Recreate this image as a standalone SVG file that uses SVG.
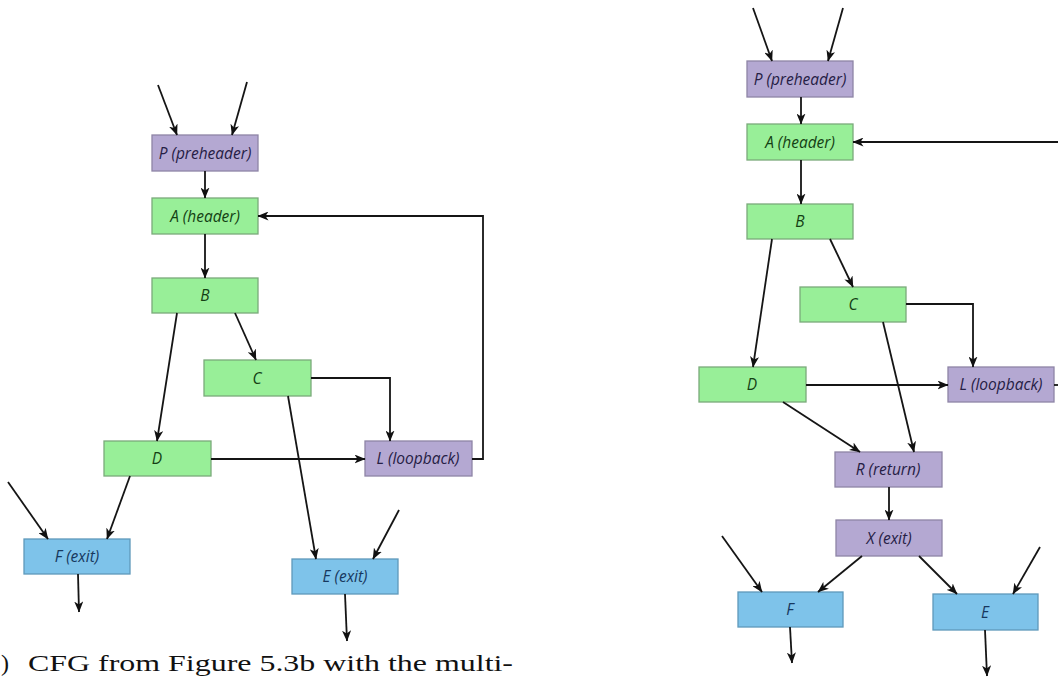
<svg xmlns="http://www.w3.org/2000/svg" width="1058" height="677" viewBox="0 0 1058 677">
<defs>
<marker id="ah" markerUnits="userSpaceOnUse" markerWidth="11" markerHeight="9" refX="10.5" refY="4.5" orient="auto">
<path d="M0,0 L11,4.5 L0,9 L3,4.5 z" fill="#111"/>
</marker>
<style>
.e{fill:none;stroke:#151515;stroke-width:1.8;marker-end:url(#ah)}
.p{fill:none;stroke:#151515;stroke-width:1.8}
.g rect{fill:#98ef98;stroke:#7aaa7a;stroke-width:1.3}
.v rect{fill:#b4a8d2;stroke:#8e84a6;stroke-width:1.3}
.b rect{fill:#7ec3ea;stroke:#5f99bb;stroke-width:1.3}
text.n{font-family:"Open Sans","DejaVu Sans",sans-serif;font-style:italic;font-size:15.5px;text-anchor:middle}
.g text{fill:#143f14}
.v text{fill:#262045}
.b text{fill:#17385e}
.cap{font-family:"Liberation Serif","DejaVu Serif",serif;font-size:24px;fill:#111}
</style>
</defs>
<rect width="1058" height="677" fill="#fff"/>

<!-- Left diagram -->
<g id="L_P" class="v"><rect x="152" y="135" width="106" height="36"/><text class="n" x="205" y="158.5">P (preheader)</text></g>
<g id="L_A" class="g"><rect x="152" y="198" width="106" height="36"/><text class="n" x="205" y="221.5">A (header)</text></g>
<g id="L_B" class="g"><rect x="152" y="278" width="106" height="35"/><text class="n" x="205" y="301">B</text></g>
<g id="L_C" class="g"><rect x="204" y="360" width="107" height="36"/><text class="n" x="257" y="383.5">C</text></g>
<g id="L_D" class="g"><rect x="104" y="441" width="107" height="35"/><text class="n" x="157" y="464">D</text></g>
<g id="L_L" class="v"><rect x="365" y="441" width="107" height="35"/><text class="n" x="418" y="464">L (loopback)</text></g>
<g id="L_F" class="b"><rect x="24" y="539" width="106" height="35"/><text class="n" x="77" y="562">F (exit)</text></g>
<g id="L_E" class="b"><rect x="292" y="559" width="106" height="35"/><text class="n" x="345" y="582">E (exit)</text></g>

<!-- Right diagram -->
<g id="R_P" class="v"><rect x="747" y="61" width="106" height="36"/><text class="n" x="800" y="84.5">P (preheader)</text></g>
<g id="R_A" class="g"><rect x="747" y="124" width="106" height="36"/><text class="n" x="800" y="147.5">A (header)</text></g>
<g id="R_B" class="g"><rect x="747" y="204" width="106" height="35"/><text class="n" x="800" y="227">B</text></g>
<g id="R_C" class="g"><rect x="800" y="287" width="106" height="35"/><text class="n" x="853" y="310">C</text></g>
<g id="R_D" class="g"><rect x="699" y="367" width="107" height="35"/><text class="n" x="752" y="390">D</text></g>
<g id="R_L" class="v"><rect x="948" y="367" width="106" height="35"/><text class="n" x="1001" y="390">L (loopback)</text></g>
<g id="R_R" class="v"><rect x="835" y="452" width="107" height="35"/><text class="n" x="888" y="475">R (return)</text></g>
<g id="R_X" class="v"><rect x="836" y="520" width="106" height="36"/><text class="n" x="889" y="543.5">X (exit)</text></g>
<g id="R_F" class="b"><rect x="738" y="592" width="105" height="35"/><text class="n" x="790" y="615">F</text></g>
<g id="R_E" class="b"><rect x="933" y="594" width="105" height="36"/><text class="n" x="985" y="617.5">E</text></g>

<g id="connectors">
<!-- left -->
<path class="e" d="M158,85 L177,135"/>
<path class="e" d="M247,82 L232,135"/>
<path class="e" d="M205,171 L205,198"/>
<path class="e" d="M205,234 L205,278"/>
<path class="e" d="M177,313 L157,441"/>
<path class="e" d="M235,313 L256,360"/>
<path class="e" d="M311,378 L390,378 L390,441"/>
<path class="e" d="M288,396 L316,559"/>
<path class="e" d="M211,459 L365,459"/>
<path class="e" d="M472,459 L483,459 L483,216 L258,216"/>
<path class="e" d="M130,476 L107,539"/>
<path class="e" d="M8,482 L48,539"/>
<path class="e" d="M78,574 L79,612"/>
<path class="e" d="M399,510 L373,559"/>
<path class="e" d="M345,594 L347,641"/>
<!-- right -->
<path class="e" d="M753,8 L772,61"/>
<path class="e" d="M843,8 L828,61"/>
<path class="e" d="M801,97 L801,124"/>
<path class="e" d="M801,160 L801,204"/>
<path class="e" d="M1058,142 L853,142"/>
<path class="e" d="M772,239 L753,367"/>
<path class="e" d="M830,239 L853,287"/>
<path class="e" d="M906,304 L973,304 L973,367"/>
<path class="e" d="M806,385 L948,385"/>
<path class="p" d="M1054,385 L1058,385"/>
<path class="e" d="M783,402 L860,452"/>
<path class="e" d="M883,322 L914,452"/>
<path class="e" d="M889,487 L889,520"/>
<path class="e" d="M862,556 L818,592"/>
<path class="e" d="M919,556 L957,594"/>
<path class="e" d="M722,536 L762,592"/>
<path class="e" d="M1040,547 L1013,594"/>
<path class="e" d="M790,627 L792,663"/>
<path class="e" d="M985,630 L987,676"/>
</g>

<text class="cap" y="671"><tspan x="1">)</tspan><tspan x="28" textLength="485" lengthAdjust="spacingAndGlyphs">CFG from Figure 5.3b with the multi-</tspan></text>
</svg>
